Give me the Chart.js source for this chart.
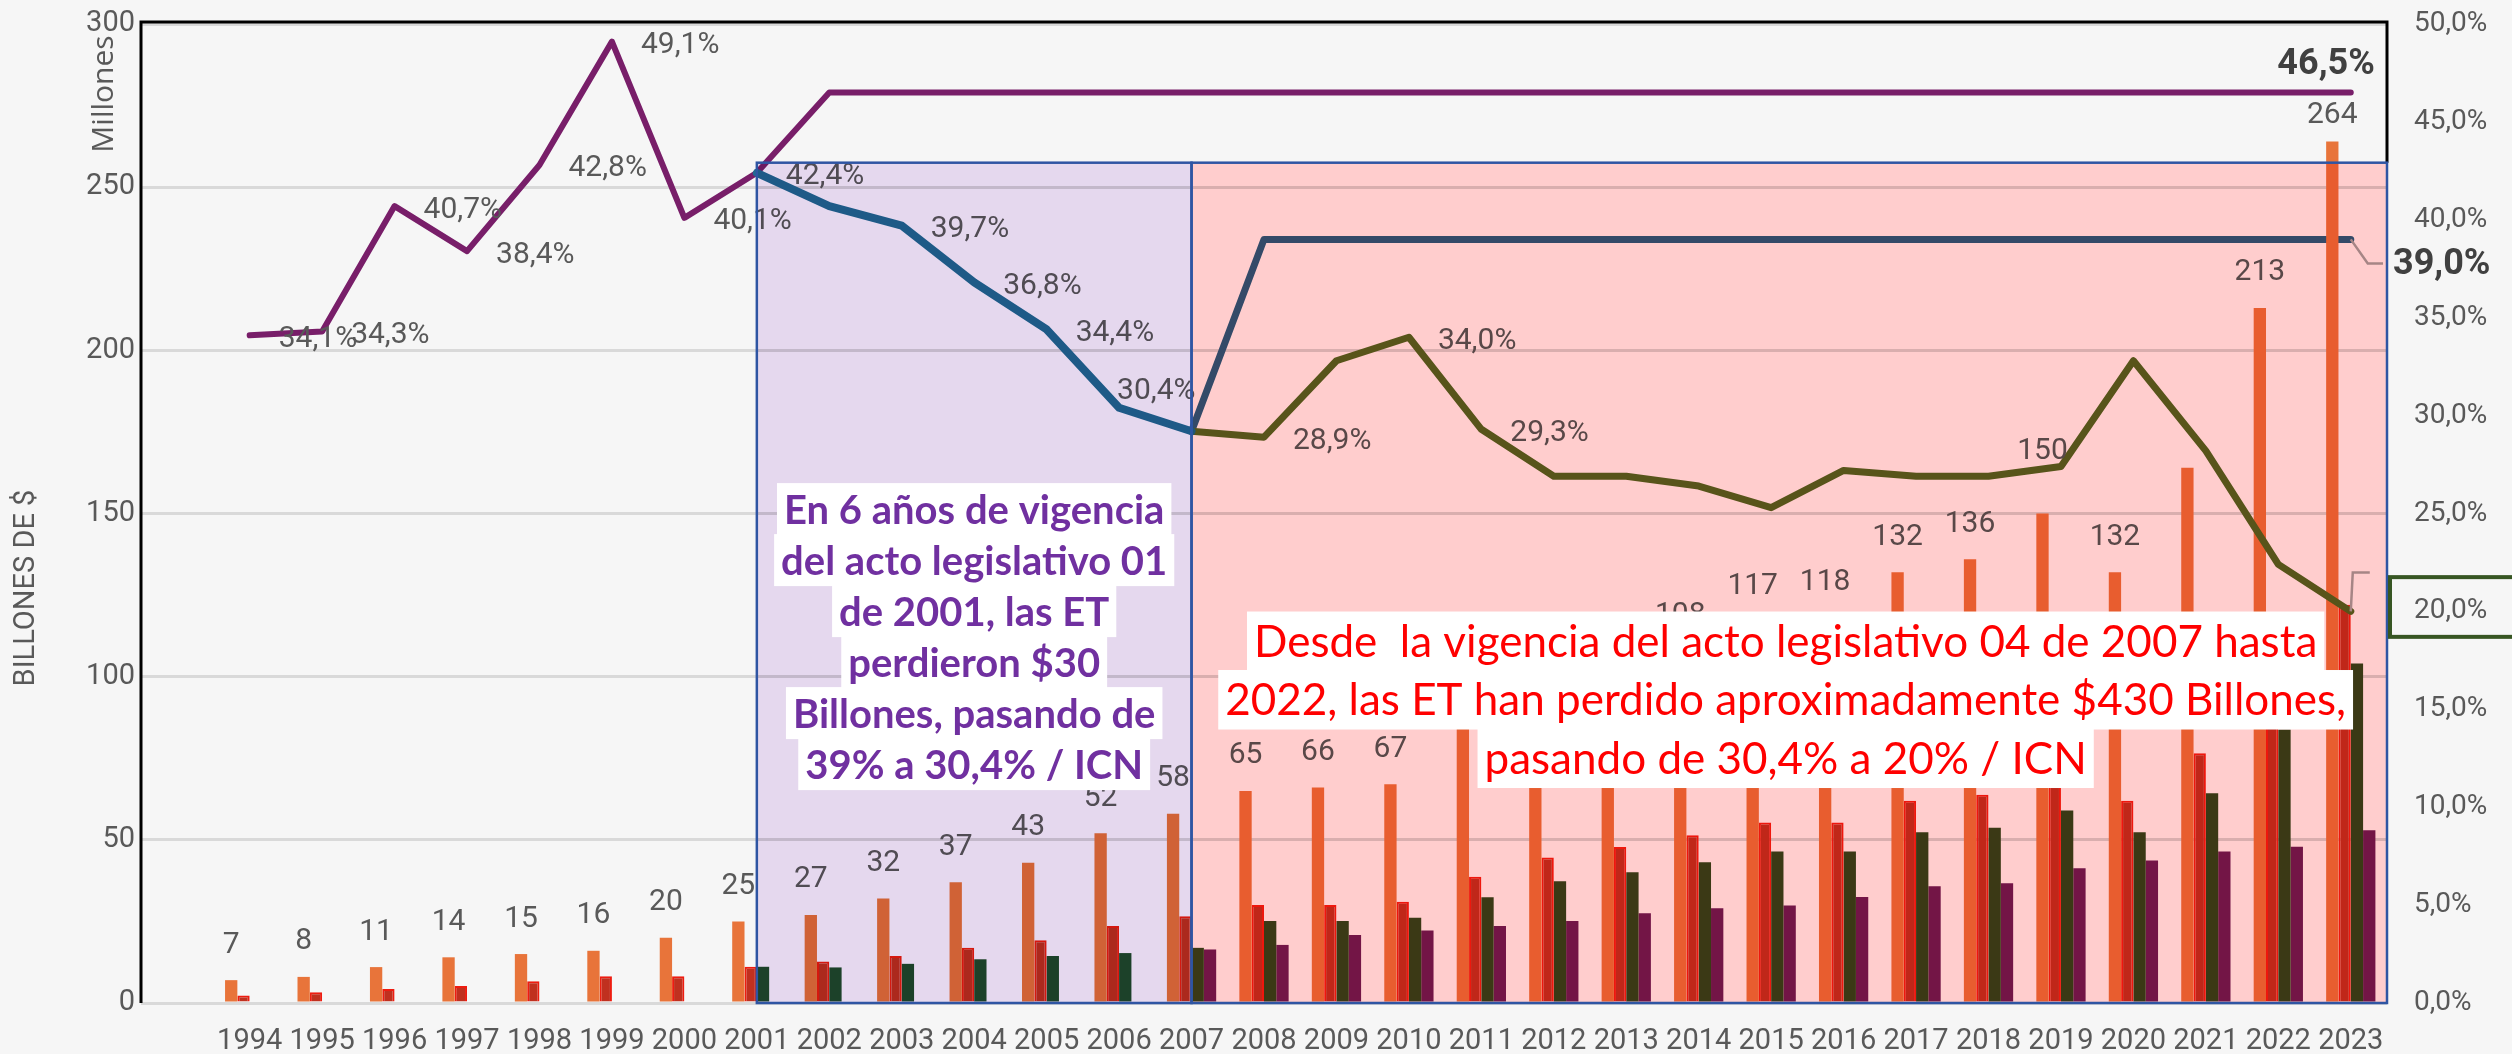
<!DOCTYPE html>
<html>
<head>
<meta charset="utf-8">
<title>Recaudo y participación / ICN</title>
<script src="https://cdn.jsdelivr.net/npm/chart.js@4.4.1/dist/chart.umd.min.js"></script>
<style>
  html, body { margin: 0; padding: 0; background: #f6f6f6; }
  #chart { display: block; }
</style>
</head>
<body>
<canvas id="chart" width="2512" height="1054"></canvas>
<script>
// categories
const years = ['1994', '1995', '1996', '1997', '1998', '1999', '2000', '2001', '2002', '2003',
               '2004', '2005', '2006', '2007', '2008', '2009', '2010', '2011', '2012', '2013',
               '2014', '2015', '2016', '2017', '2018', '2019', '2020', '2021', '2022', '2023'];

// bars, billones de $ (left axis)
const orangeBars = [7, 8, 11, 14, 15, 16, 20, 25, 27, 32, 37, 43, 52, 58, 65, 66, 67, 86, 96, 99,
                    108, 117, 118, 132, 136, 150, 132, 164, 213, 264];
const redBars = [2.3, 3.3, 4.3, 5.2, 6.7, 8.2, 8.2, 11.1, 12.7, 14.4, 16.9, 19.2, 23.6, 26.6, 30, 30, 31, 38.7, 44.6, 47.8,
                 51.4, 55.3, 55.3, 62, 63.8, 70, 62, 76.5, 100, 122];
const greenBars = [null, null, null, null, null, null, null, 11.1, 10.9, 12.0, 13.4, 14.4, 15.3, 16.9, 25.1, 25.1, 26.1, 32.4, 37.3, 40.1,
                   43.1, 46.4, 46.4, 52.3, 53.7, 59.0, 52.3, 64.3, 83.8, 104];
const purpleBars = [null, null, null, null, null, null, null, null, null, null, null, null, null, 16.4, 17.8, 20.8, 22.2, 23.6, 25.1, 27.5,
                    29.0, 29.9, 32.5, 35.8, 36.7, 41.3, 43.7, 46.4, 47.9, 52.9];

// lines, % (right axis)
const purpleLine = [34.1, 34.3, 40.7, 38.4, 42.8, 49.1, 40.1, 42.4, 46.5, 46.5, 46.5, 46.5, 46.5, 46.5, 46.5, 46.5, 46.5, 46.5, 46.5, 46.5,
                    46.5, 46.5, 46.5, 46.5, 46.5, 46.5, 46.5, 46.5, 46.5, 46.5];
const blueLine = [null, null, null, null, null, null, null, 42.4, 40.7, 39.7, 36.8, 34.4, 30.4, 29.2, null, null, null, null, null, null,
                  null, null, null, null, null, null, null, null, null, null];
const slateLine = [null, null, null, null, null, null, null, null, null, null, null, null, null, 29.2, 39.0, 39.0, 39.0, 39.0, 39.0, 39.0,
                   39.0, 39.0, 39.0, 39.0, 39.0, 39.0, 39.0, 39.0, 39.0, 39.0];
const oliveLine = [null, null, null, null, null, null, null, null, null, null, null, null, null, 29.2, 28.9, 32.8, 34.0, 29.3, 26.9, 26.9,
                   26.4, 25.3, 27.2, 26.9, 26.9, 27.4, 32.8, 28.2, 22.4, 20.0];

// which points carry a value label
const purpleLabelYears = ['1994', '1995', '1996', '1997', '1998', '1999', '2000', '2001'];
const blueLabelYears = ['2003', '2004', '2005', '2006'];
const oliveLabelYears = ['2008', '2010', '2011'];
const orangeHiddenLabelYears = ['2021'];

// annotation texts
const purpleNote = ['En 6 años de vigencia', 'del acto legislativo 01', 'de 2001, las ET', 'perdieron $30',
                    'Billones, pasando de', '39% a 30,4% / ICN'];
const redNote = ['Desde  la vigencia del acto legislativo 04 de 2007 hasta',
                 '2022, las ET han perdido aproximadamente $430 Billones,',
                 'pasando de 30,4% a 20% / ICN'];

const BOX_TOP = 257.5;      // top of the shaded periods, left axis units
const GRAY = '#595959';

const fmtPct = v => v.toFixed(1).replace('.', ',') + '%';

function noteLines(c, lines, cx, cy, lineH, font, color) {
  c.font = font;
  c.textAlign = 'center';
  c.textBaseline = 'middle';
  lines.forEach((t, k) => {
    const w = c.measureText(t).width;
    c.fillStyle = '#ffffff';
    c.fillRect(cx - w / 2 - 7, cy + k * lineH - lineH / 2, w + 14, lineH + 1);
  });
  c.fillStyle = color;
  lines.forEach((t, k) => c.fillText(t, cx, cy + k * lineH + 2));
}

const annotations = {
  id: 'annotations',
  afterDraw(chart) {
    const c = chart.ctx;
    const xs = chart.scales.x, yl = chart.scales.y, yr = chart.scales.y1;
    const area = chart.chartArea;
    const x2001 = xs.getPixelForValue(2001), x2007 = xs.getPixelForValue(2007);
    const x2023 = xs.getPixelForValue(2023);
    const boxTop = yl.getPixelForValue(BOX_TOP), boxBottom = yl.getPixelForValue(0);
    c.save();

    // value labels on orange bars
    c.font = '30px Roboto';
    c.fillStyle = GRAY;
    c.textAlign = 'center';
    c.textBaseline = 'middle';
    chart.getDatasetMeta(0).data.forEach((bar, i) => {
      if (orangeBars[i] == null || orangeHiddenLabelYears.includes(years[i])) return;
      // 150 sits above the gridline, 264 hugs its bar under the 46,5% label
      const lift = years[i] === '2019' ? 62 : years[i] === '2023' ? 26 : 35;
      c.fillText(String(orangeBars[i]), bar.x, bar.y - lift);
    });

    // value labels on lines
    c.textAlign = 'left';
    const lineLabels = (dsIndex, values, labelYears) => {
      const meta = chart.getDatasetMeta(dsIndex);
      labelYears.forEach(y => {
        const i = years.indexOf(y);
        const pt = meta.data[i];
        const nudge = y === '2006' ? [-2, -16] : [29, 4];
        c.fillText(fmtPct(values[i]), pt.x + nudge[0], pt.y + nudge[1]);
      });
    };
    lineLabels(6, purpleLine, purpleLabelYears);
    lineLabels(4, blueLine, blueLabelYears);
    lineLabels(5, oliveLine, oliveLabelYears);

    // leader lines for the end labels
    const ySlate = yr.getPixelForValue(slateLine[slateLine.length - 1]);
    const yOlive = yr.getPixelForValue(oliveLine[oliveLine.length - 1]);
    c.strokeStyle = '#a6a6a6';
    c.lineWidth = 2.5;
    c.beginPath();
    c.moveTo(x2023, ySlate);
    c.lineTo(x2023 + 17, ySlate + 24);
    c.lineTo(area.right - 4, ySlate + 24);
    c.moveTo(x2023, yOlive);
    c.lineTo(x2023 + 2, yOlive - 39);
    c.lineTo(x2023 + 19, yOlive - 39);
    c.stroke();

    // frame
    c.strokeStyle = '#000000';
    c.lineWidth = 3;
    c.beginPath();
    c.moveTo(area.left, boxBottom);
    c.lineTo(area.left, area.top - 2);
    c.lineTo(area.right, area.top - 2);
    c.lineTo(area.right, boxTop);
    c.stroke();

    // shaded periods
    c.globalCompositeOperation = 'multiply';
    c.fillStyle = 'rgb(229,216,238)';
    c.fillRect(x2001, boxTop, x2007 - x2001, boxBottom - boxTop);
    c.fillStyle = 'rgb(255,205,205)';
    c.fillRect(x2007, boxTop, area.right - x2007, boxBottom - boxTop);
    c.globalCompositeOperation = 'source-over';
    c.strokeStyle = '#2f55a3';
    c.lineWidth = 2.5;
    c.strokeRect(x2001, boxTop, x2007 - x2001, boxBottom - boxTop);
    c.strokeRect(x2007, boxTop, area.right - x2007, boxBottom - boxTop);

    // bold end labels
    c.font = 'bold 36px Roboto';
    c.fillStyle = '#404040';
    c.textAlign = 'right';
    const yPurple = yr.getPixelForValue(purpleLine[purpleLine.length - 1]);
    c.fillText(fmtPct(purpleLine[purpleLine.length - 1]), x2023 + 24, yPurple - 28);
    c.textAlign = 'left';
    c.fillText(fmtPct(slateLine[slateLine.length - 1]), area.right + 6, ySlate + 26);

    // box round the 20 % tick
    const g1 = yr.getPixelForValue(21.75), g2 = yr.getPixelForValue(18.7);
    c.strokeStyle = '#375623';
    c.lineWidth = 4;
    c.strokeRect(area.right + 3, g1, chart.width, g2 - g1);

    // axis titles
    c.fillStyle = GRAY;
    c.textAlign = 'center';
    c.save();
    c.translate(27, 588);
    c.rotate(-Math.PI / 2);
    c.font = '29px Roboto';
    c.fillText('BILLONES DE $', 0, 0);
    c.restore();
    c.save();
    c.translate(104, 94);
    c.rotate(-Math.PI / 2);
    c.font = '30px "Open Sans"';
    c.fillText('Millones', 0, 0);
    c.restore();

    // notes
    noteLines(c, purpleNote, (x2001 + x2007) / 2, yl.getPixelForValue(151.5), 51,
              'bold 40px Lato', '#7030a0');
    noteLines(c, redNote, xs.getPixelForValue(2015.2), yl.getPixelForValue(111), 58.5,
              '44px Lato', '#ff0000');

    c.restore();
  }
};

Chart.defaults.font.family = 'Roboto';
Chart.defaults.color = GRAY;

// vertical axes: fixed width, no extra room above/below for the end tick labels
const fixVertical = width => s => {
  s.width = width;
  s.paddingTop = 0;
  s.paddingBottom = 0;
};

new Chart(document.getElementById('chart'), {
  type: 'bar',
  data: {
    labels: years,
    datasets: [
      { type: 'bar', data: orangeBars, backgroundColor: '#e8743a', yAxisID: 'y', order: 1 },
      { type: 'bar', data: redBars, backgroundColor: '#c0301f', borderColor: '#ee1c10', borderWidth: 2,
        yAxisID: 'y', order: 1 },
      { type: 'bar', data: greenBars, backgroundColor: years.map(y => Number(y) < 2007 ? '#1f4d2c' : '#3b471a'),
        yAxisID: 'y', order: 1 },
      { type: 'bar', data: purpleBars, backgroundColor: '#731957', yAxisID: 'y', order: 1 },
      { type: 'line', data: blueLine, borderColor: '#216a91', borderWidth: 8, yAxisID: 'y1', order: 0 },
      { type: 'line', data: oliveLine, borderColor: '#586820', borderWidth: 7, yAxisID: 'y1', order: 0 },
      { type: 'line', data: purpleLine, borderColor: '#781e69', borderWidth: 6, yAxisID: 'y1', order: 0 },
      { type: 'line', data: slateLine, borderColor: '#345c81', borderWidth: 7, yAxisID: 'y1', order: 2 }
    ]
  },
  options: {
    responsive: false,
    animation: false,
    devicePixelRatio: 1,
    layout: { padding: { top: 24, left: 0, right: 0, bottom: 0 } },
    datasets: {
      bar: { barPercentage: 1, categoryPercentage: 0.68 },
      line: { pointRadius: 0, tension: 0, borderJoinStyle: 'round', borderCapStyle: 'round', fill: false }
    },
    plugins: { legend: { display: false }, tooltip: { enabled: false } },
    scales: {
      x: {
        type: 'linear',
        offset: false,
        min: 1992.5,
        max: 2023.5,
        afterBuildTicks: s => { s.ticks = years.map(v => ({ value: Number(v) })); },
        afterFit: s => { s.height = 51; },
        grid: { display: false },
        border: { display: false },
        ticks: { autoSkip: false, maxRotation: 0, padding: 13, color: GRAY,
                 font: { size: 29 }, callback: v => String(v) }
      },
      y: {
        position: 'left',
        min: 0,
        max: 300,
        afterFit: fixVertical(141),
        grid: { color: '#d9d9d9', lineWidth: 3, drawTicks: false },
        border: { display: false },
        ticks: { stepSize: 50, padding: 6, color: GRAY, font: { size: 29 } }
      },
      y1: {
        position: 'right',
        min: 0,
        max: 50,
        afterFit: fixVertical(125),
        grid: { display: false, drawTicks: false },
        border: { display: false },
        ticks: { stepSize: 5, padding: 27, color: GRAY, font: { size: 28 }, callback: v => fmtPct(v) }
      }
    }
  },
  plugins: [annotations]
});
</script>
</body>
</html>
